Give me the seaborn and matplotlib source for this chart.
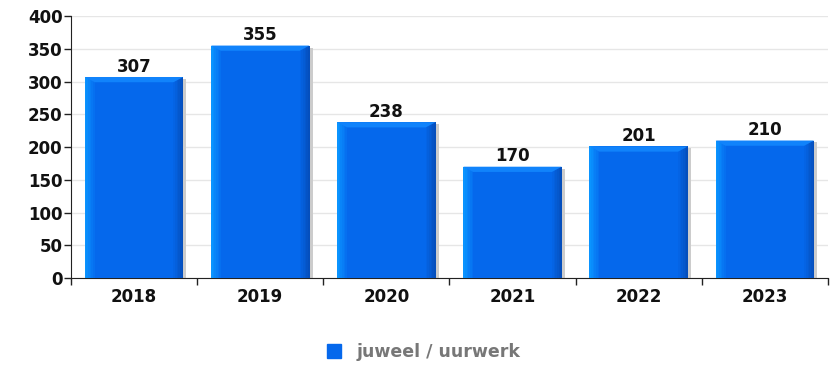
import pandas as pd
import numpy as np
import seaborn as sns
import matplotlib.pyplot as plt
from matplotlib.patches import Rectangle, Polygon
from matplotlib.lines import Line2D

years = ["2018", "2019", "2020", "2021", "2022", "2023"]
values = [307, 355, 238, 170, 201, 210]
series_name = "juweel / uurwerk"

df = pd.DataFrame({"jaar": years, "aantal": values})

sns.set_style("white")
plt.rcParams['font.family'] = ['DejaVu Sans']

fig = plt.figure(figsize=(8.38, 3.66), dpi=100)
ax = fig.add_axes([0.0847, 0.2404, 0.9033, 0.7156])

main = "#0568ec"
sns.barplot(data=df, x="jaar", y="aantal", color=main, width=0.78,
            saturation=1, ax=ax, zorder=3)

# bevel / shadow effect built from the bar geometry
light = np.array([0.04, 0.58, 1.0])
dark = np.array([0.02, 0.31, 0.74])
base = np.array([0.02, 0.41, 0.93])
for p in ax.patches[:len(values)]:
    x0, w, h = p.get_x(), p.get_width(), p.get_height()
    p.set_visible(False)
    ax.add_patch(Rectangle((x0 + 0.025, 0), w, h - 3, color="#cccccc", zorder=2, lw=0))
    ax.add_patch(Rectangle((x0, 0), w, h, color=main, zorder=3, lw=0))
    n = 6
    sw = w * 0.1 / n
    for i in range(n):
        f = i / n
        ax.add_patch(Rectangle((x0 + i * sw, 0), sw * 1.05, h,
                               color=light * (1 - f) + base * f, zorder=4, lw=0))
        ax.add_patch(Rectangle((x0 + w - (i + 1) * sw, 0), sw * 1.05, h,
                               color=dark * (1 - f) + base * f, zorder=4, lw=0))
    top = 8
    ax.add_patch(Polygon([(x0, h), (x0 + w, h), (x0 + w * 0.9, h - top), (x0 + w * 0.1, h - top)],
                         closed=True, color="#1183fb", zorder=5, lw=0))
    ax.text(x0 + w / 2, h + 2, str(int(h)), ha="center", va="bottom",
            fontsize=12, fontweight="bold", color="#111111", zorder=6)

ax.set_ylim(0, 400)
ax.set_xlim(-0.5, len(years) - 0.5)
ax.set_yticks(range(0, 401, 50))
ax.yaxis.grid(True, color="#e6e6e6", lw=1, zorder=0)
ax.set_axisbelow(True)
ax.set_xlabel("")
ax.set_ylabel("")

for s in ["top", "right"]:
    ax.spines[s].set_visible(False)
ax.spines["left"].set_color("#222222")
ax.spines["bottom"].set_color("#222222")

ax.set_xticks(range(len(years)))
ax.set_xticklabels(years)
ax.tick_params(axis="x", length=0, pad=7, labelsize=12)
ax.tick_params(axis="y", length=5, width=1, color="#222222", pad=1, labelsize=12, left=True)
ax.set_xticks(np.arange(-0.5, len(years), 1), minor=True)
ax.tick_params(axis="x", which="minor", length=5, width=1, color="#222222", bottom=True)
for lbl in ax.get_xticklabels() + ax.get_yticklabels():
    lbl.set_fontweight("bold")
    lbl.set_color("#111111")

handle = Line2D([], [], marker="s", linestyle="none", markersize=10,
                markerfacecolor=main, markeredgecolor=main)
leg = fig.legend([handle], [series_name], loc="center", bbox_to_anchor=(0.5, 0.038),
                 frameon=False, handletextpad=0.3, fontsize=12.5)
for t in leg.get_texts():
    t.set_color("#777777")
    t.set_fontweight("bold")

plt.savefig("out.png", dpi=100)
